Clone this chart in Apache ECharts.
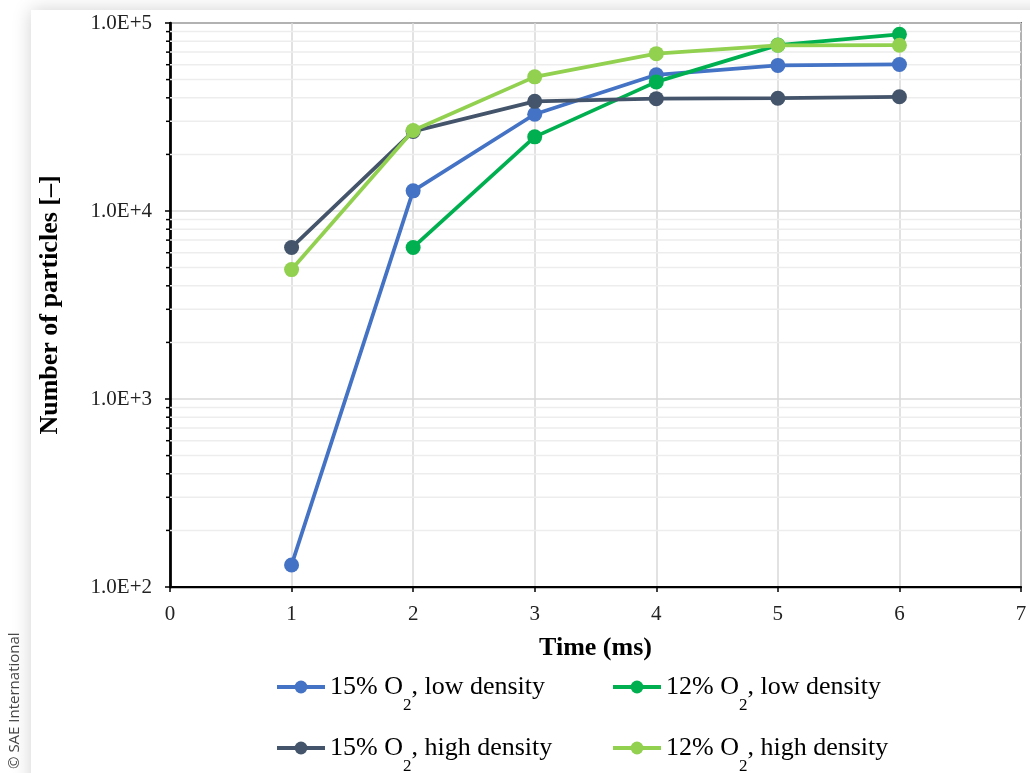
<!DOCTYPE html>
<html>
<head>
<meta charset="utf-8">
<script src="https://cdn.jsdelivr.net/npm/echarts@6/dist/echarts.min.js"></script>
<style>
  html, body { margin:0; padding:0; width:1030px; height:773px; overflow:hidden; background:#fff; }
  #panel { position:absolute; left:31px; top:10px; width:1100px; height:900px; background:#fff;
           box-shadow: 0 0 18px rgba(0,0,0,0.18); }
  #chart { position:absolute; left:0; top:0; width:1030px; height:773px; }
</style>
</head>
<body>
<div id="panel"></div>
<div id="chart"></div>
<script>
// ---- data ----
const times = [1, 2, 3, 4, 5, 6];
const o2_15_low  = [131, 12800, 32700, 53000, 59500, 60200];
const o2_12_low  = [null, 6400, 24800, 48600, 76300, 87000];
const o2_15_high = [6400, 26500, 38300, 39600, 39800, 40500];
const o2_12_high = [4880, 26800, 51700, 68700, 76100, 76200];
const seriesNames = ['15% O2, low density', '12% O2, low density', '15% O2, high density', '12% O2, high density'];
const seriesColors = ['#4472C4', '#00B050', '#44546A', '#92D050'];
const yTickLabels = ['1.0E+2', '1.0E+3', '1.0E+4', '1.0E+5'];
const xTicks = [0, 1, 2, 3, 4, 5, 6, 7];

const serif = '"Liberation Serif", "Times New Roman", serif';
const minorVals = [];
for (let e = 2; e <= 4; e++) for (let k = 2; k <= 9; k++) minorVals.push([0, k * Math.pow(10, e)]);

function pairs(vals) { return times.map((t, i) => [t, vals[i]]).filter(p => p[1] != null); }
const allVals = [o2_15_low, o2_12_low, o2_15_high, o2_12_high];

const chart = echarts.init(document.getElementById('chart'), null, { renderer: 'canvas' });

const lineSeries = allVals.map((vals, i) => ({
  type: 'line',
  name: seriesNames[i],
  data: pairs(vals),
  symbol: 'circle',
  symbolSize: 15,
  lineStyle: { width: 3.75, color: seriesColors[i] },
  itemStyle: { color: seriesColors[i] },
  z: 3 + i
}));

const legendText = {
  fontFamily: serif, fontSize: 26, color: '#000', lineHeight: 30,
  rich: { sub: { fontFamily: serif, fontSize: 17, lineHeight: 17, verticalAlign: 'top', padding: [25, 0, 0, 0] } }
};
const legendPos = [[270, 667], [606, 667], [270, 728], [606, 728]];
const legends = seriesNames.map((n, i) => ({
  data: [n],
  left: legendPos[i][0], top: legendPos[i][1],
  itemWidth: 48, itemHeight: 16,
  lineStyle: { width: 4 },
  textStyle: legendText,
  formatter: name => name.replace('O2', 'O{sub|2}'),
  selectedMode: false
}));

chart.setOption({
  animation: false,
  grid: { left: 170, right: 9, top: 23, bottom: 186, show: true, borderColor: '#000', borderWidth: 1.5, backgroundColor: 'transparent' },
  legend: legends,
  xAxis: {
    type: 'value', min: xTicks[0], max: xTicks[xTicks.length - 1], interval: 1,
    name: 'Time (ms)', nameLocation: 'middle', nameGap: 48,
    nameTextStyle: { fontFamily: serif, fontSize: 26, fontWeight: 'bold', color: '#000' },
    axisLine: { lineStyle: { color: '#000', width: 2.25 } },
    axisTick: { show: true, length: 5, inside: false, lineStyle: { color: '#000', width: 1.5 } },
    axisLabel: { fontFamily: serif, fontSize: 21, color: '#222', margin: 17 },
    splitLine: { show: true, lineStyle: { color: '#d9d9d9', width: 1.5 } }
  },
  yAxis: {
    type: 'log', logBase: 10, min: 100, max: 100000, splitNumber: 3,
    name: 'Number of particles [\u2013]', nameLocation: 'middle', nameGap: 107,
    nameTextStyle: { fontFamily: serif, fontSize: 26, fontWeight: 'bold', color: '#000' },
    axisLine: { show: true, lineStyle: { color: '#000', width: 2.75 } },
    axisTick: { show: true, length: 5, inside: false, lineStyle: { color: '#000', width: 1.5 } },
    axisLabel: {
      fontFamily: serif, fontSize: 21, color: '#222', margin: 18,
      formatter: v => yTickLabels[Math.round(Math.log10(v)) - 2]
    },
    splitLine: { show: true, lineStyle: { color: '#d9d9d9', width: 1.5 } }
  },
  graphic: [{
    type: 'text', x: 7, y: 769, rotation: Math.PI / 2,
    style: { text: '\u00A9 SAE International', font: '15px "Open Sans", sans-serif', fill: '#444' }
  }],
  series: [{
    type: 'custom', z: 1, silent: true, clip: false,
    data: minorVals,
    renderItem: function (params, api) {
      const y = api.coord([0, api.value(1)])[1];
      const cs = params.coordSys;
      return {
        type: 'group',
        children: [
          { type: 'line', shape: { x1: cs.x, y1: y, x2: cs.x + cs.width, y2: y }, style: { stroke: '#ededed', lineWidth: 1.5 } },
          { type: 'line', shape: { x1: cs.x - 4, y1: y, x2: cs.x, y2: y }, style: { stroke: '#000', lineWidth: 1.5 } }
        ]
      };
    }
  }].concat(lineSeries)
});
</script>
</body>
</html>
